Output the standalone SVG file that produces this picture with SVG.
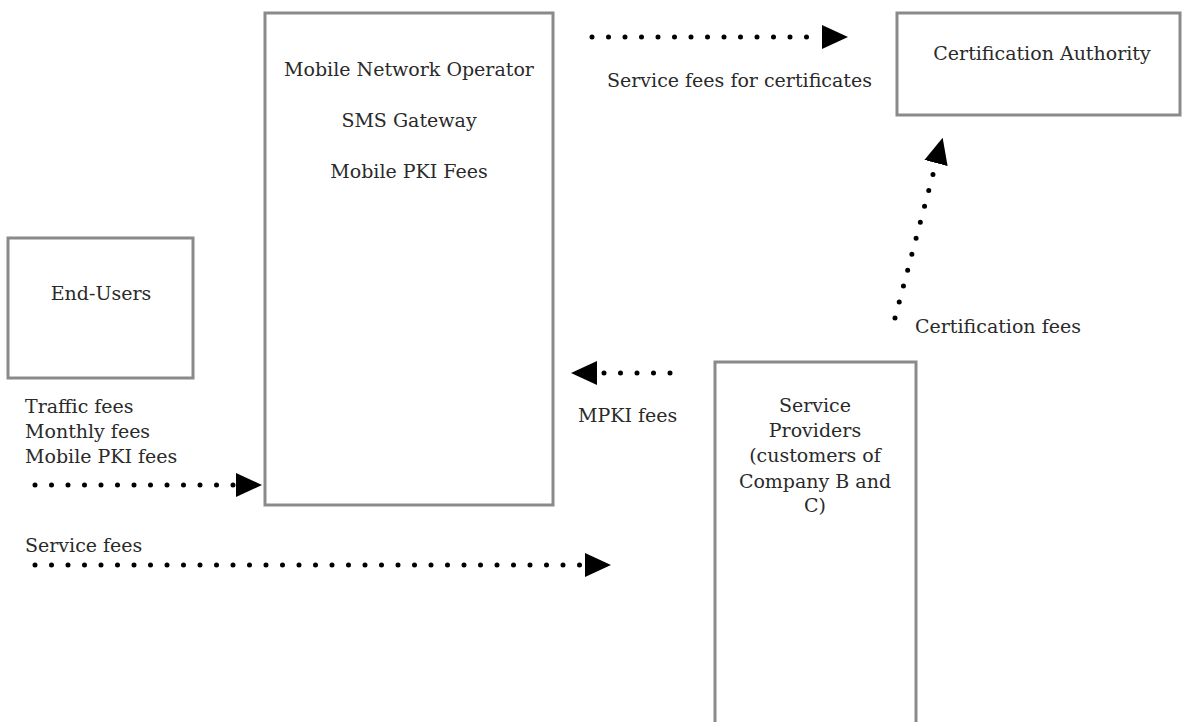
<svg xmlns="http://www.w3.org/2000/svg" width="1188" height="722" viewBox="0 0 1188 722">
  <style>
    .box { fill: #fff; stroke: #8a8a8a; stroke-width: 3; }
    .t { font-family: "DejaVu Serif", "Liberation Serif", serif; font-size: 19px; fill: #2a2a2a; }
    .c { text-anchor: middle; }
    .dots { fill: none; stroke: #000; stroke-width: 5; stroke-linecap: round; stroke-dasharray: 0 16.5; }
  </style>
  <defs>
    <marker id="head" viewBox="0 0 26 24" refX="0" refY="12" markerWidth="26" markerHeight="24" markerUnits="userSpaceOnUse" orient="auto">
      <path d="M0,0 L26,12 L0,24 Z" fill="#000"/>
    </marker>
  </defs>
  <rect width="1188" height="722" fill="#fff"/>

  <g id="mno">
    <rect class="box" x="265" y="13" width="288" height="492"/>
    <text class="t c" x="409" y="76">Mobile Network Operator</text>
    <text class="t c" x="409" y="127">SMS Gateway</text>
    <text class="t c" x="409" y="178">Mobile PKI Fees</text>
  </g>

  <g id="ca">
    <rect class="box" x="897" y="13" width="283" height="102"/>
    <text class="t c" x="1042" y="60">Certification Authority</text>
  </g>

  <g id="end-users">
    <rect class="box" x="8" y="238" width="185" height="140"/>
    <text class="t c" x="101" y="300">End-Users</text>
  </g>

  <g id="service-providers">
    <rect class="box" x="715" y="362" width="201" height="380"/>
    <text class="t c" x="815" y="412">Service</text>
    <text class="t c" x="815" y="437">Providers</text>
    <text class="t c" x="815" y="462">(customers of</text>
    <text class="t c" x="815" y="488">Company B and</text>
    <text class="t c" x="815" y="512">C)</text>
  </g>

  <g id="connectors">
    <path class="dots" d="M592,37 L822,37" marker-end="url(#head)"/>
    <path class="dots" d="M35,485 L236,485" marker-end="url(#head)"/>
    <path class="dots" d="M670,373 L597,373" marker-end="url(#head)"/>
    <path class="dots" d="M35,565 L585,565" marker-end="url(#head)"/>
    <path class="dots" d="M895,318 L936,163" marker-end="url(#head)"/>
  </g>

  <g id="labels">
    <text class="t" x="607" y="87">Service fees for certificates</text>
    <text class="t" x="25" y="413">Traffic fees</text>
    <text class="t" x="25" y="438">Monthly fees</text>
    <text class="t" x="25" y="463">Mobile PKI fees</text>
    <text class="t" x="578" y="422">MPKI fees</text>
    <text class="t" x="25" y="552">Service fees</text>
    <text class="t" x="915" y="333">Certification fees</text>
  </g>
</svg>
